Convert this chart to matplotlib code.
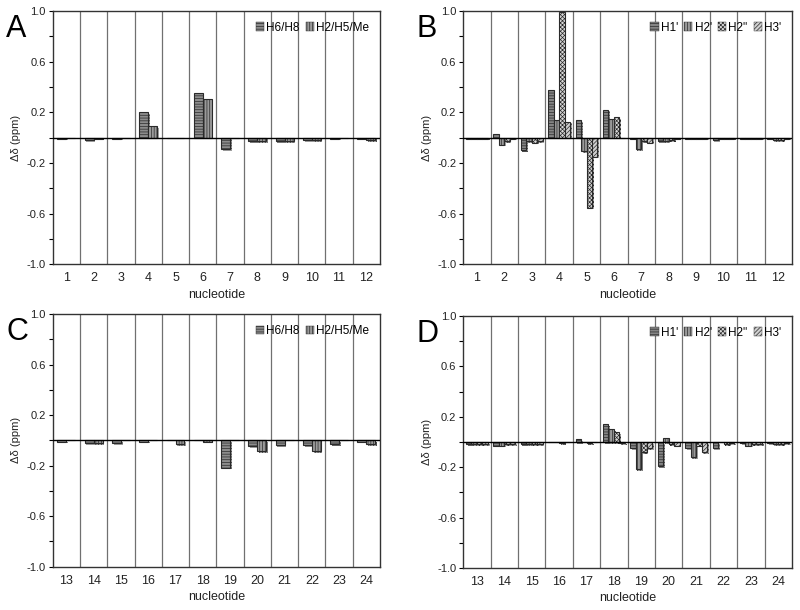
import numpy as np
import matplotlib
matplotlib.use('Agg')
from matplotlib import pyplot as plt
from matplotlib import patheffects as pe

plt.rcParams['font.family'] = ['Liberation Sans', 'DejaVu Sans']
plt.rcParams['hatch.linewidth'] = 0.5

# nucleotide numbers
nuc_top = list(range(1, 13))
nuc_bot = list(range(13, 25))

# base protons (panels A and C)
a_h6h8 = [-0.01, -0.02, -0.01, 0.20, 0.0, 0.355, -0.09, -0.03, -0.03, -0.02, -0.01, -0.01]
a_h2h5me = [0.0, -0.01, 0.0, 0.09, 0.0, 0.305, 0.0, -0.03, -0.03, -0.02, 0.0, -0.02]
c_h6h8 = [-0.01, -0.02, -0.02, -0.01, 0.0, 0.0, -0.215, -0.045, -0.04, -0.04, -0.03, -0.01]
c_h2h5me = [0.0, -0.02, 0.0, 0.0, -0.03, -0.01, 0.0, -0.085, 0.0, -0.085, 0.0, -0.03]

# sugar protons (panels B and D)
b_h1 = [-0.01, 0.03, -0.10, 0.375, 0.14, 0.22, -0.01, -0.03, -0.01, -0.02, -0.01, -0.01]
b_h2 = [-0.01, -0.055, -0.03, 0.14, -0.105, 0.15, -0.09, -0.03, -0.01, -0.01, -0.01, -0.02]
b_h2pp = [-0.01, -0.03, -0.04, 0.99, -0.555, 0.16, -0.03, -0.02, -0.01, -0.01, -0.01, -0.02]
b_h3 = [-0.01, -0.01, -0.03, 0.125, -0.15, 0.0, -0.04, -0.01, -0.01, -0.01, -0.01, -0.01]
d_h1 = [-0.02, -0.03, -0.02, 0.0, 0.02, 0.14, -0.05, -0.19, -0.05, -0.05, -0.01, -0.01]
d_h2 = [-0.02, -0.03, -0.02, 0.0, 0.0, 0.10, -0.215, 0.03, -0.12, 0.0, -0.03, -0.02]
d_h2pp = [-0.02, -0.02, -0.02, -0.01, -0.01, 0.08, -0.08, -0.02, -0.03, -0.02, -0.02, -0.02]
d_h3 = [-0.02, -0.02, -0.02, 0.0, 0.0, -0.01, -0.05, -0.03, -0.08, -0.01, -0.02, -0.01]

base_labels = ['H6/H8', 'H2/H5/Me']
sugar_labels = ["H1'", "H2'", "H2''", "H3'"]

# fill, hatch for each series
base_style = [('#8c8c8c', '------'), ('#9a9a9a', '||||||')]
sugar_style = [('#858585', '------'), ('#9a9a9a', '||||||'),
               ('#d8d8d8', 'xxxxxxxx'), ('#d0d0d0', '////////')]

fig = plt.figure(figsize=(8, 6.1), dpi=100)
shadow = [pe.SimplePatchShadow(offset=(1.2, -1.2), alpha=0.45), pe.Normal()]


def panel(rect, nucs, series, labels, styles, letter):
    ax = fig.add_axes(rect)
    x = np.arange(len(nucs))
    n = len(series)
    w = 0.8 / n if n == 4 else 0.33
    for i, (vals, lab, (fc, hat)) in enumerate(zip(series, labels, styles)):
        off = (i - (n - 1) / 2) * w
        bars = ax.bar(x + off, vals, w, color=fc, hatch=hat, edgecolor='#2a2a2a',
                      linewidth=0.8, label=lab, zorder=3)
        for b in bars:
            b.set_path_effects(shadow)
    for xv in x[:-1] + 0.5:
        ax.axvline(xv, color='#707070', lw=0.9, zorder=1)
    ax.axhline(0, color='black', lw=1.0, zorder=4)
    ax.set_xlim(-0.5, len(nucs) - 0.5)
    ax.set_ylim(-1.0, 1.0)
    ax.set_xticks(x)
    ax.set_xticklabels([str(v) for v in nucs], fontsize=9, color='#222222')
    ax.tick_params(axis='x', length=0, pad=6)
    ax.set_yticks([1.0, 0.6, 0.2, -0.2, -0.6, -1.0])
    ax.set_yticklabels(['1.0', '0.6', '0.2', '-0.2', '-0.6', '-1.0'], fontsize=8, color='#222222')
    ax.set_yticks([0.8, 0.4, 0.0, -0.4, -0.8], minor=True)
    ax.tick_params(axis='y', which='both', length=3, width=0.8, direction='out', pad=2)
    ax.set_xlabel('nucleotide', fontsize=9, color='#222222', labelpad=3)
    ax.set_ylabel('Δδ (ppm)', fontsize=8, color='#222222', labelpad=4)
    for s in ax.spines.values():
        s.set_linewidth(1.0)
        s.set_color('#333333')
    leg = ax.legend(loc='upper right', ncol=n, frameon=False, fontsize=8.5,
                    handlelength=0.7, handleheight=0.7, handletextpad=0.2,
                    columnspacing=0.5, borderaxespad=0.5)
    for h in leg.legend_handles:
        h.set_path_effects([])
        h.set_linewidth(0.3)
    fig.text(rect[0] - 0.058, rect[1] + rect[3] - 0.005, letter, fontsize=22,
             va='top', ha='left')
    return ax


panel([0.066, 0.567, 0.409, 0.415], nuc_top, [a_h6h8, a_h2h5me],
      base_labels, base_style, 'A')
panel([0.579, 0.567, 0.411, 0.415], nuc_top, [b_h1, b_h2, b_h2pp, b_h3],
      sugar_labels, sugar_style, 'B')
panel([0.066, 0.071, 0.409, 0.414], nuc_bot, [c_h6h8, c_h2h5me],
      base_labels, base_style, 'C')
panel([0.579, 0.069, 0.411, 0.413], nuc_bot, [d_h1, d_h2, d_h2pp, d_h3],
      sugar_labels, sugar_style, 'D')

fig.savefig('out.png', dpi=100)
